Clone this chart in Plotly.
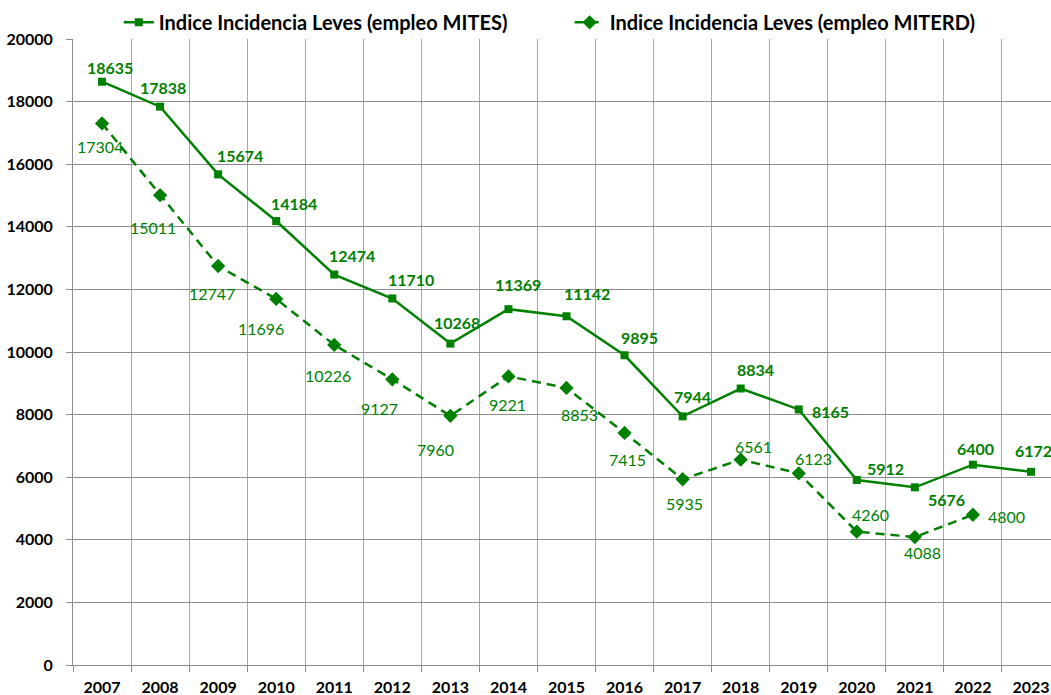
import plotly.graph_objects as go

years = ["2007", "2008", "2009", "2010", "2011", "2012", "2013", "2014", "2015",
         "2016", "2017", "2018", "2019", "2020", "2021", "2022", "2023"]
mites = [18635, 17838, 15674, 14184, 12474, 11710, 10268, 11369, 11142,
         9895, 7944, 8834, 8165, 5912, 5676, 6400, 6172]
miterd = [17304, 15011, 12747, 11696, 10226, 9127, 7960, 9221, 8853,
          7415, 5935, 6561, 6123, 4260, 4088, 4800]
y_ticks = [0, 2000, 4000, 6000, 8000, 10000, 12000, 14000, 16000, 18000, 20000]

# label offsets in pixels (dx right, dy down)
mites_off = [(8, -14), (3, -19), (22, -19), (18, -18), (18, -19), (19, -19), (7, -21),
             (10, -25), (20, -23), (15, -18), (10, -20), (15, -19), (32, 2), (29, -11),
             (32, 12), (3, -16), (3, -21)]
miterd_off = [(-2, 23), (-7, 32), (-6, 27), (-15, 30), (-6, 31), (-13, 29), (-15, 34),
              (-1, 28), (13, 27), (3, 27), (2, 24), (13, -13), (15, -15), (14, -17),
              (8, 15), (34, 2)]

GREEN = "#008000"
FONT = "Lato"
xs = list(range(len(years)))

fig = go.Figure()
fig.add_trace(go.Scatter(
    x=xs, y=mites, mode="lines+markers",
    name="<b>Indice Incidencia Leves (empleo MITES)</b>",
    line=dict(color=GREEN, width=2.5),
    marker=dict(symbol="square", size=8, color=GREEN),
    legend="legend", cliponaxis=False,
))
fig.add_trace(go.Scatter(
    x=xs[:len(miterd)], y=miterd, mode="lines+markers",
    name="<b>Indice Incidencia Leves (empleo MITERD)</b>",
    line=dict(color=GREEN, width=2.5, dash="9px,6px"),
    marker=dict(symbol="diamond", size=11, color=GREEN),
    legend="legend2",
))

annotations = []
for i, v in enumerate(mites):
    dx, dy = mites_off[i]
    annotations.append(dict(x=xs[i], y=v, text=f"<b>{v}</b>", showarrow=False,
                            xshift=dx, yshift=-dy, font=dict(family=FONT, size=16, color=GREEN)))
for i, v in enumerate(miterd):
    dx, dy = miterd_off[i]
    annotations.append(dict(x=xs[i], y=v, text=str(v), showarrow=False,
                            xshift=dx, yshift=-dy, font=dict(family=FONT, size=16, color=GREEN)))

fig.update_layout(
    width=1051, height=695,
    margin=dict(l=73, r=0, t=39, b=30, autoexpand=False),
    paper_bgcolor="white", plot_bgcolor="white",
    font=dict(family=FONT, size=16, color="black"),
    showlegend=True,
    legend=dict(orientation="h", xref="container", yref="container",
                x=0.113, y=0.996, xanchor="left", yanchor="top",
                font=dict(family=FONT, size=20, color="black"),
                bgcolor="rgba(0,0,0,0)"),
    legend2=dict(orientation="h", xref="container", yref="container",
                 x=0.542, y=0.996, xanchor="left", yanchor="top",
                 font=dict(family=FONT, size=20, color="black"),
                 bgcolor="rgba(0,0,0,0)"),
    annotations=annotations,
)
fig.update_xaxes(
    range=[-0.5, 16.345], tickmode="array", tickvals=xs, ticktext=[f"<b>{y}</b>" for y in years],
    showgrid=False, ticks="", showline=True, linecolor="#8c8c8c", linewidth=1,
    tickfont=dict(family=FONT, size=16, color="black"), ticklabelstandoff=8,
    minor=dict(tickmode="linear", tick0=-0.5, dtick=1, showgrid=True,
               gridcolor="#a6a6a6", gridwidth=1, ticks="outside", ticklen=6,
               tickcolor="#8c8c8c"),
    zeroline=False, automargin=False,
)
fig.update_yaxes(
    range=[0, 20000], tickmode="array", tickvals=y_ticks,
    ticktext=[f"<b>{t}</b>" for t in y_ticks],
    showgrid=True, gridcolor="#8c8c8c", gridwidth=1,
    ticks="outside", ticklen=6, tickcolor="#8c8c8c",
    showline=True, linecolor="#8c8c8c", linewidth=1,
    tickfont=dict(family=FONT, size=16, color="black"), ticklabelstandoff=10,
    zeroline=False, automargin=False,
)

fig.write_html("out.html", config={"displayModeBar": False},
               post_script="document.body.style.margin='0';document.body.style.overflow='hidden';")
